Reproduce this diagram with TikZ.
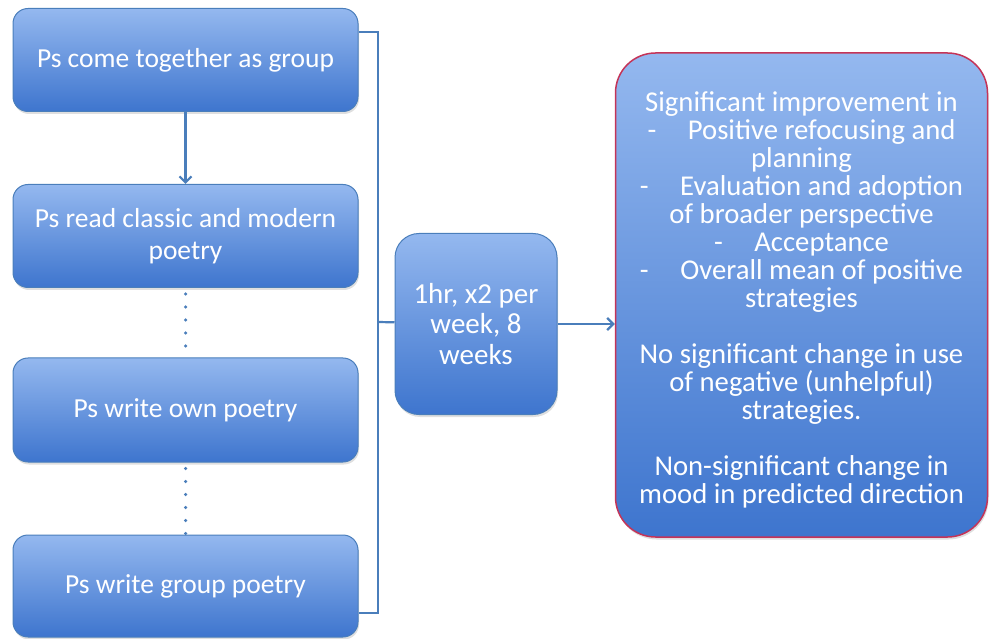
\documentclass[tikz,border=0pt]{standalone}
\usepackage{fontspec}
\setmainfont{Carlito}
\usetikzlibrary{arrows.meta,shadows}
\definecolor{boxtop}{RGB}{148,184,239}
\definecolor{boxbottom}{RGB}{62,117,206}
\definecolor{boxline}{RGB}{74,126,187}
\definecolor{outline}{RGB}{196,52,88}
\begin{document}
\begin{tikzpicture}[x=1pt,y=-1pt,
  stepbox/.style={draw=boxline,line width=1pt,top color=boxtop,bottom color=boxbottom,
    rounded corners=15pt,text=white,align=center,inner sep=0pt,
    font=\fontsize{27.5}{32}\selectfont,
    drop shadow={opacity=0.25,shadow xshift=1pt,shadow yshift=-2.5pt}},
  link/.style={draw=boxline,line width=2.2pt},
  dots/.style={draw=boxline,line width=3.5pt,line cap=round,dash pattern=on 0pt off 13pt},
  tip/.style={-{Straight Barb[length=6pt,width=12pt]}}]
  \useasboundingbox (0,0) rectangle (989,639);
  \node[stepbox,minimum width=345,minimum height=103] (come) at (185.5,60) {Ps come together as group};
  \node[stepbox,minimum width=345,minimum height=103] (read) at (185.5,236) {Ps read classic and modern\\poetry};
  \node[stepbox,minimum width=345,minimum height=104] (own) at (185.5,410) {Ps write own poetry};
  \node[stepbox,minimum width=345,minimum height=102] (group) at (185.5,586) {Ps write group poetry};
  \node[stepbox,minimum width=162,minimum height=181,rounded corners=24pt,
    font=\fontsize{29}{30.5}\selectfont] (dose) at (476,324) {1hr, x2 per\\week, 8\\weeks};
  \node[stepbox,draw=outline,line width=1.5pt,minimum width=372,minimum height=484,
    rounded corners=40pt] (result) at (801.5,295) {};
  \node[text=white,align=center,inner sep=0pt,font=\fontsize{28.7}{28}\selectfont]
    (findings) at (801.5,300) {Significant improvement in\\
    -\hspace{1.1em}Positive refocusing and\\
    planning\\
    -\hspace{1.1em}Evaluation and adoption\\
    of broader perspective\\
    -\hspace{1.1em}Acceptance\\
    -\hspace{1.1em}Overall mean of positive\\
    strategies\\[28pt]
    No significant change in use\\
    of negative (unhelpful)\\
    strategies.\\[28pt]
    Non-significant change in\\
    mood in predicted direction};
  \coordinate (brace) at (378,322);
  \draw[link,tip] (come) -- (read);
  \draw[dots] ([yshift=-6pt]read.south) -- (own.north);
  \draw[dots] ([yshift=-6pt]own.south) -- (group.north);
  \draw[link] ([yshift=28pt]come.east) -| (brace) |- ([yshift=-27pt]group.east);
  \draw[link] (brace) -- (dose);
  \draw[link,tip] (dose.east) -- (dose.east -| result.west);
\end{tikzpicture}
\end{document}
